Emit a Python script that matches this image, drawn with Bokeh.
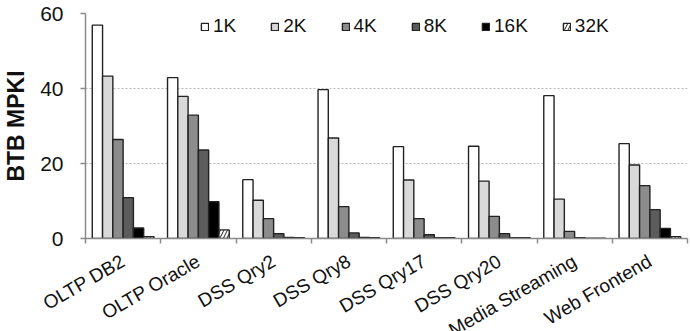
import math
from bokeh.plotting import figure
from bokeh.models import ColumnDataSource, FixedTicker, Legend, LegendItem, Range1d
from bokeh.embed import file_html
from bokeh.resources import INLINE

# Workloads on the x axis
workloads = ["OLTP DB2", "OLTP Oracle", "DSS Qry2", "DSS Qry8", "DSS Qry17",
             "DSS Qry20", "Media Streaming", "Web Frontend"]

# BTB sizes (series) and their BTB MPKI per workload
btb_sizes = ["1K", "2K", "4K", "8K", "16K", "32K"]
mpki_1k = [56.9, 42.9, 15.7, 39.7, 24.5, 24.6, 38.1, 25.3]
mpki_2k = [43.3, 37.9, 10.2, 26.8, 15.6, 15.3, 10.5, 19.6]
mpki_4k = [26.4, 32.9, 5.3, 8.5, 5.3, 5.9, 1.9, 14.1]
mpki_8k = [10.9, 23.6, 1.3, 1.5, 1.0, 1.3, 0.2, 7.7]
mpki_16k = [2.8, 9.8, 0.3, 0.3, 0.2, 0.2, 0.1, 2.7]
mpki_32k = [0.5, 2.3, 0.2, 0.2, 0.2, 0.2, 0.1, 0.5]
series = [mpki_1k, mpki_2k, mpki_4k, mpki_8k, mpki_16k, mpki_32k]

y_ticks = [0, 20, 40, 60]

fills = ["#ffffff", "#d9d9d9", "#8c8c8c", "#5c5c5c", "#000000", "#ffffff"]
hatches = [None, None, None, None, None, "right_diagonal_line"]

FONT = "Liberation Sans"
INK = "#111111"
AXIS = "#8a8a8a"
n = len(workloads)
group = 0.82
bar_w = group / len(series)

# fixed plotting area; the long slanted names run off the bottom edge
p = figure(frame_width=602, frame_height=225, output_backend="svg",
           toolbar_location=None,
           x_range=Range1d(0, n), y_range=Range1d(0, 60),
           min_border_left=81, min_border_right=7, min_border_top=13,
           min_border_bottom=93)
p.outline_line_color = None
p.background_fill_color = "white"

items = []
for k, (name, vals) in enumerate(zip(btb_sizes, series)):
    xs = [i + 0.5 + (k - (len(series) - 1) / 2) * bar_w for i in range(n)]
    src = ColumnDataSource(dict(x=xs, top=vals))
    kw = {}
    if hatches[k]:
        kw = dict(hatch_pattern=hatches[k], hatch_color="#222222",
                  hatch_scale=7, hatch_weight=1)
    r = p.vbar(x="x", top="top", width=bar_w, source=src,
               fill_color=fills[k], line_color="#222222", line_width=1.4, **kw)
    items.append(LegendItem(label=name, renderers=[r]))

# x axis: slanted names at workload centres, small ticks at group boundaries
xax = p.xaxis[0]
xax.ticker = FixedTicker(ticks=[i + 0.5 for i in range(n)],
                         minor_ticks=list(range(n + 1)))
xax.major_label_overrides = {i + 0.5: w for i, w in enumerate(workloads)}
xax.major_label_orientation = math.pi / 6
xax.major_label_text_font = FONT
xax.major_label_text_font_size = "19px"
xax.major_label_text_color = INK
xax.major_label_standoff = 16
xax.major_tick_line_color = None
xax.major_tick_in = 0
xax.major_tick_out = 0
xax.minor_tick_in = 0
xax.minor_tick_out = 5
xax.minor_tick_line_color = AXIS
xax.minor_tick_line_width = 1.5
xax.axis_line_color = AXIS
xax.axis_line_width = 1.5

yax = p.yaxis[0]
yax.ticker = FixedTicker(ticks=y_ticks)
yax.minor_tick_line_color = None
yax.major_tick_in = 0
yax.major_tick_out = 5
yax.major_tick_line_color = AXIS
yax.major_tick_line_width = 1.5
yax.axis_line_color = AXIS
yax.axis_line_width = 1.5
yax.major_label_text_font = FONT
yax.major_label_text_font_size = "21px"
yax.major_label_text_color = INK
yax.major_label_standoff = 17
yax.axis_label = "BTB MPKI"
yax.axis_label_text_font = FONT
yax.axis_label_text_font_size = "23px"
yax.axis_label_text_font_style = "bold"
yax.axis_label_text_color = INK
yax.axis_label_standoff = 8

p.xgrid.grid_line_color = None
p.ygrid.ticker = FixedTicker(ticks=y_ticks[1:])
p.ygrid.grid_line_color = "#b8b8b8"
p.ygrid.grid_line_dash = "2 2"
p.ygrid.grid_line_width = 1

legend = Legend(items=items, orientation="horizontal", location=(115, 201),
                padding=3, margin=0, spacing=34, label_standoff=4,
                glyph_width=9, glyph_height=9, border_line_color=None,
                background_fill_alpha=0, label_text_font=FONT,
                label_text_font_size="19px", label_text_color=INK)
p.add_layout(legend)

open("out.html", "w").write(file_html(p, INLINE))
